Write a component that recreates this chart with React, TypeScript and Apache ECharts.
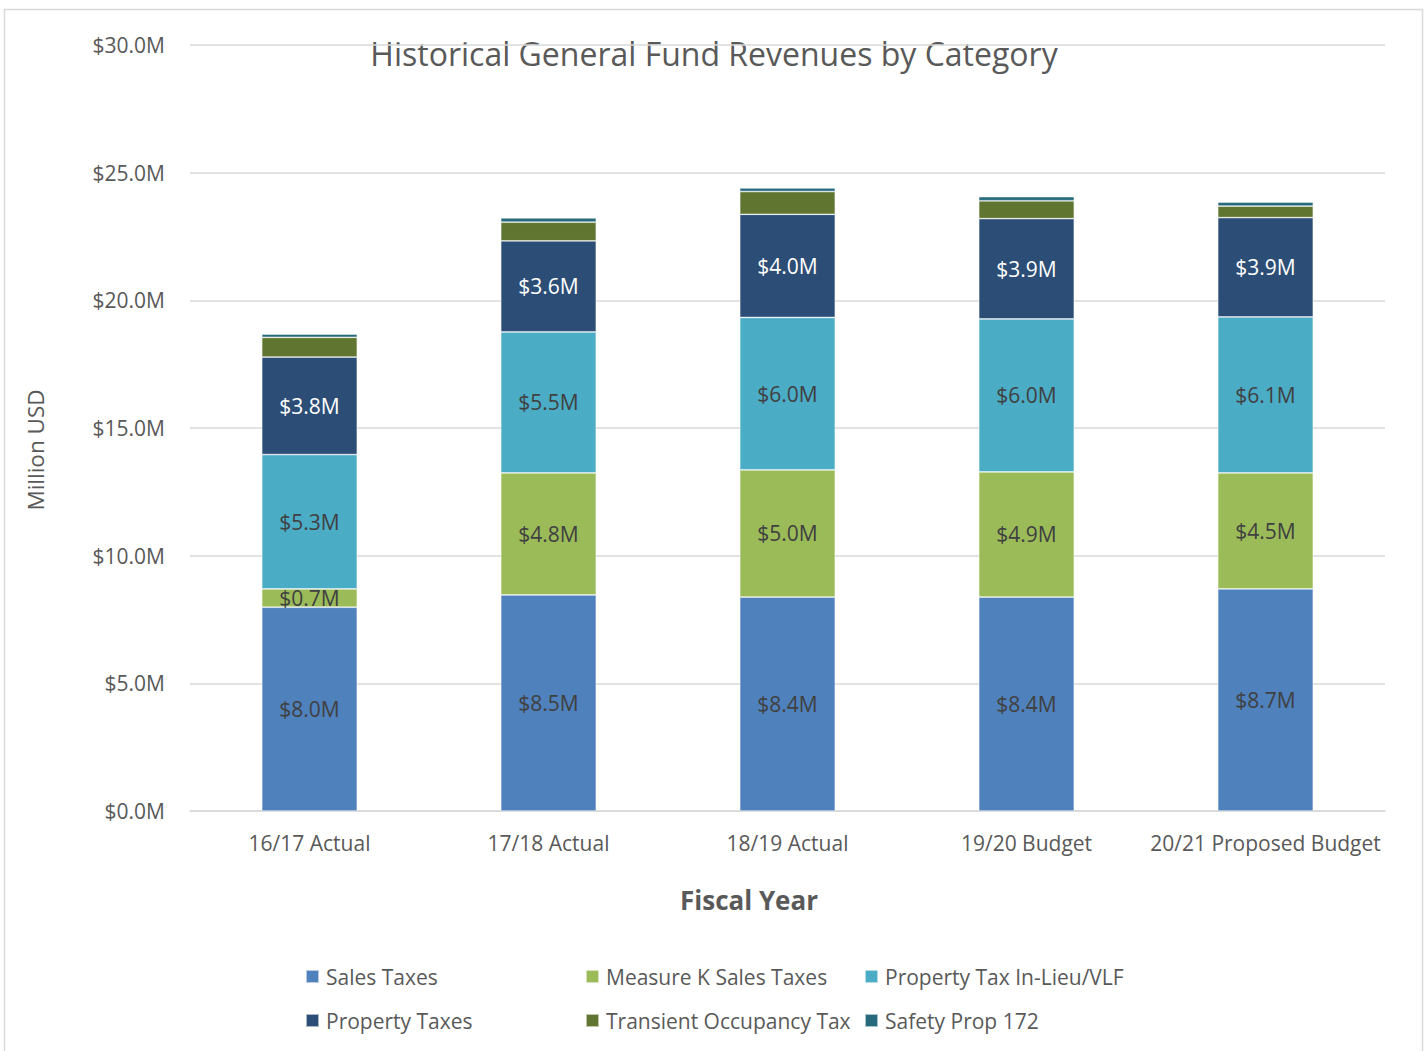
import React, { useEffect, useRef } from "react";
import * as echarts from "echarts";

const categories = ["16/17 Actual", "17/18 Actual", "18/19 Actual", "19/20 Budget", "20/21 Proposed Budget"];
const salesTaxes = [7.98, 8.46, 8.38, 8.38, 8.7];
const measureK = [0.72, 4.78, 4.98, 4.9, 4.54];
const vlf = [5.26, 5.52, 5.97, 5.99, 6.11];
const propertyTaxes = [3.82, 3.57, 4.04, 3.93, 3.89];
const tot = [0.77, 0.73, 0.89, 0.7, 0.45];
const safety = [0.13, 0.17, 0.14, 0.16, 0.16];
const yTicks = [0, 5, 10, 15, 20, 25, 30];

const FONT = "Open Sans";
const fmt = (v: number) => "$" + v.toFixed(1) + "M";

export default function App() {
  const ref = useRef<HTMLDivElement>(null);
  useEffect(() => {
    const chart = echarts.init(ref.current!, undefined, { renderer: "svg" });
    const mk = (name: string, data: number[], color: string, labelColor: string | null) => ({
      name,
      type: "bar",
      stack: "total",
      data,
      barWidth: "40%",
      itemStyle: { color, borderColor: "rgba(255,255,255,0.6)", borderWidth: 0.75 },
      label: labelColor
        ? {
            show: true,
            position: "inside",
            formatter: (p: any) => fmt(p.value),
            color: labelColor,
            fontFamily: FONT,
            fontSize: 21,
          }
        : { show: false },
      emphasis: { disabled: true },
    });
    const legendBase = {
      orient: "vertical",
      top: 961,
      itemWidth: 13,
      itemHeight: 13,
      itemGap: 23,
      icon: "rect",
      textStyle: { fontFamily: FONT, fontSize: 21, color: "#595959", padding: [0, 0, 0, 2] },
    };
    chart.setOption({
      animation: false,
      backgroundColor: "#ffffff",
      grid: { left: 190, right: 43, top: 45, bottom: 240, containLabel: false },
      xAxis: {
        type: "category",
        data: categories,
        axisLine: { lineStyle: { color: "#D9D9D9", width: 1.5 } },
        axisTick: { show: false },
        axisLabel: { interval: 0, fontFamily: FONT, fontSize: 21, color: "#595959", margin: 21 },
      },
      yAxis: {
        type: "value",
        min: 0,
        max: 30,
        interval: 5,
        axisLine: { show: false },
        axisTick: { show: false },
        splitLine: { lineStyle: { color: "#D9D9D9", width: 1.5 } },
        axisLabel: {
          fontFamily: FONT,
          fontSize: 21,
          color: "#595959",
          margin: 25,
          formatter: (v: number) => (yTicks.includes(v) ? fmt(v) : ""),
        },
      },
      legend: [
        { ...legendBase, left: 300, data: ["Sales Taxes", "Property Taxes"] },
        { ...legendBase, left: 580, data: ["Measure K Sales Taxes", "Transient Occupancy Tax"] },
        { ...legendBase, left: 859, data: ["Property Tax In-Lieu/VLF", "Safety Prop 172"] },
      ],
      graphic: [
        {
          type: "rect",
          shape: { x: 4.5, y: 9.5, width: 1418, height: 1050 },
          style: { fill: "none", stroke: "#D9D9D9", lineWidth: 1.5 },
          silent: true,
        },
        {
          type: "text",
          x: 714,
          y: 53,
          style: {
            text: "Historical General Fund Revenues by Category",
            fontFamily: FONT,
            fontSize: 32,
            fill: "#595959",
            align: "center",
            verticalAlign: "middle",
          },
        },
        {
          type: "text",
          x: 749,
          y: 900,
          style: {
            text: "Fiscal Year",
            fontFamily: FONT,
            fontSize: 26,
            fontWeight: "bold",
            fill: "#595959",
            align: "center",
            verticalAlign: "middle",
          },
        },
        {
          type: "text",
          x: 35,
          y: 450,
          rotation: Math.PI / 2,
          style: {
            text: "Million USD",
            fontFamily: FONT,
            fontSize: 22.5,
            fill: "#595959",
            align: "center",
            verticalAlign: "middle",
          },
        },
      ],
      series: [
        mk("Sales Taxes", salesTaxes, "#4F81BD", "#404040"),
        mk("Measure K Sales Taxes", measureK, "#9BBB59", "#404040"),
        mk("Property Tax In-Lieu/VLF", vlf, "#4BACC6", "#404040"),
        mk("Property Taxes", propertyTaxes, "#2C4D75", "#FFFFFF"),
        mk("Transient Occupancy Tax", tot, "#5F7530", null),
        mk("Safety Prop 172", safety, "#276A7C", null),
      ],
    });
    return () => chart.dispose();
  }, []);
  return (
    <div
      ref={ref}
      style={{ position: "fixed", left: 0, top: 0, width: 1428, height: 1051, background: "#fff" }}
    />
  );
}
